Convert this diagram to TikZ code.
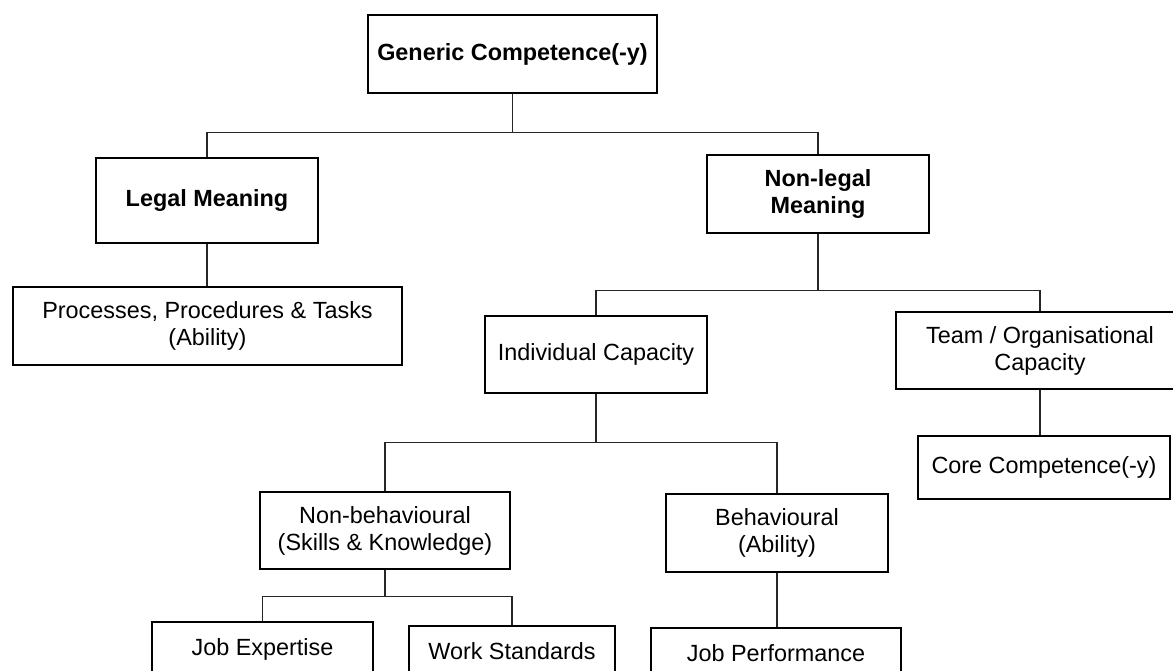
\documentclass[tikz,border=0pt]{standalone}
\usepackage{fontspec}
\setmainfont{Liberation Sans}
\usetikzlibrary{calc}

\tikzset{
    box/.style={rectangle, draw=black, line width=0.6pt, inner sep=0pt, align=center,
        fill=white, font=\fontsize{11.7}{13.5}\selectfont},
    boldbox/.style={box, font=\fontsize{11.7}{13.5}\selectfont\bfseries},
    dims/.style 2 args={minimum width=#1*0.5pt, minimum height=#2*0.5pt},
    wire/.style={draw=black!85, line width=0.6pt}
}

\begin{document}
\begin{tikzpicture}[x=0.5pt, y=-0.5pt]
    \useasboundingbox (0,0) rectangle (1173,670);
    % top levels
    \node[boldbox, dims={289}{78}] (generic) at (512.5,54) {Generic Competence(-y)};
    \node[boldbox, dims={222}{85}] (legal) at (207,200.5) {Legal Meaning};
    \node[boldbox, dims={222}{78}] (nonlegal) at (818,194) {Non-legal\\Meaning};
    \node[box, dims={389}{78}] (processes) at (207.5,326) {Processes, Procedures \& Tasks\\(Ability)};
    % capacities
    \node[box, dims={222}{77}] (individual) at (596,354.5) {Individual Capacity};
    \node[box, dims={288}{77}] (team) at (1040,350.5) {Team / Organisational\\Capacity};
    \node[box, dims={252}{63}] (core) at (1044,467.5) {Core Competence(-y)};
    \node[box, dims={250}{77}] (nonbehav) at (385,530.5) {Non-behavioural\\(Skills \& Knowledge)};
    \node[box, dims={222}{78}] (behav) at (777,533) {Behavioural\\(Ability)};
    % bottom row (boxes run off the page)
    \node[box, dims={221}{77}] (expertise) at (262.5,660.5) {Job Expertise\\~};
    \node[box, dims={206}{77}] (standards) at (512,664.5) {Work Standards\\~};
    \node[box, dims={250}{77}] (performance) at (776,666.5) {Job Performance\\~};

    % connectors
    \draw[wire] (generic.south) -- ++(0,39) coordinate (bus1);
    \draw[wire] (legal.north) |- (bus1) -| (nonlegal.north);
    \draw[wire] (legal.south) -- (legal.south |- processes.north);
    \draw[wire] (nonlegal.south) -- ++(0,57) coordinate (bus2);
    \draw[wire] (individual.north) |- (bus2) -| (team.north);
    \draw[wire] (team.south) -- (team.south |- core.north);
    \draw[wire] (individual.south) -- ++(0,49) coordinate (bus3);
    \draw[wire] (nonbehav.north) |- (bus3) -| (behav.north);
    \draw[wire] (nonbehav.south) -- ++(0,27) coordinate (bus4);
    \draw[wire] (expertise.north) |- (bus4) -| (standards.north);
    \draw[wire] (behav.south) -- (behav.south |- performance.north);
\end{tikzpicture}
\end{document}
